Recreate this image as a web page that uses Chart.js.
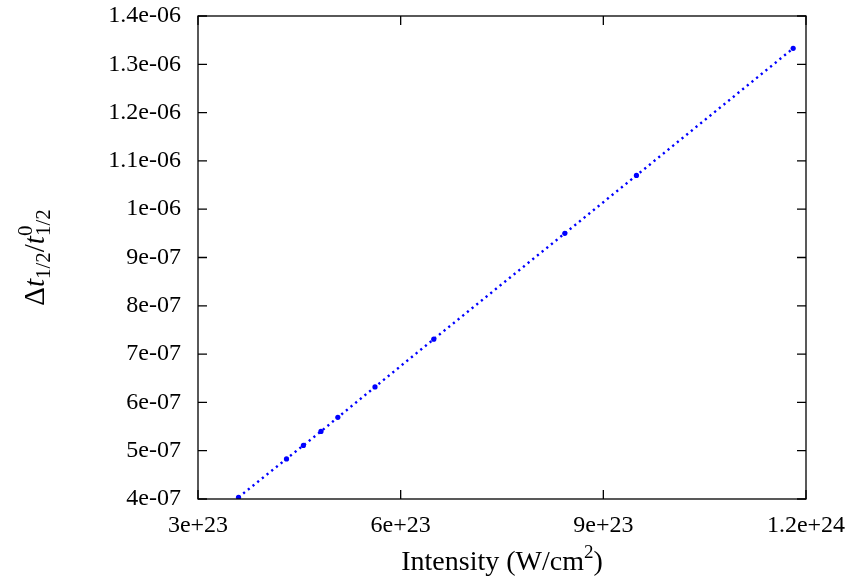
<!DOCTYPE html>
<html>
<head>
<meta charset="utf-8">
<script src="https://cdn.jsdelivr.net/npm/chart.js@4"></script>
<style>
  html, body { margin: 0; padding: 0; background: #fff; }
  #wrap { width: 859px; height: 581px; }
</style>
</head>
<body>
<div id="wrap"><canvas id="chart" width="859" height="581"></canvas></div>
<script>
// intensity values (W/cm^2) and relative half-life change
const intensity = [3.60e23, 4.31e23, 4.56e23, 4.82e23, 5.07e23, 5.62e23, 6.49e23, 8.43e23, 9.49e23, 1.181e24];
const deltaT = [4.035e-7, 4.83e-7, 5.11e-7, 5.40e-7, 5.69e-7, 6.32e-7, 7.31e-7, 9.50e-7, 1.070e-6, 1.333e-6];

const xTickValues = [3e23, 6e23, 9e23, 1.2e24];
const xTickLabels = ['3e+23', '6e+23', '9e+23', '1.2e+24'];
const yTickValues = [4e-7, 5e-7, 6e-7, 7e-7, 8e-7, 9e-7, 1e-6, 1.1e-6, 1.2e-6, 1.3e-6, 1.4e-6];
const yTickLabels = ['4e-07', '5e-07', '6e-07', '7e-07', '8e-07', '9e-07', '1e-06', '1.1e-06', '1.2e-06', '1.3e-06', '1.4e-06'];

const FONT = '"Liberation Serif", "Times New Roman", serif';

// draw text pieces with sub/superscripts, centred on cx, baseline cy
function drawRich(ctx, parts, cx, cy) {
  parts.forEach(p => {
    ctx.font = (p.italic ? 'italic ' : '') + p.size + 'px ' + FONT;
    p.w = ctx.measureText(p.t).width;
  });
  // a part flagged stackWithPrev sits under/over the previous one
  let x = 0;
  const pos = [];
  parts.forEach((p, i) => {
    if (p.stackWithPrev) {
      pos.push(pos[i - 1]);
      x = pos[i - 1] + Math.max(p.w, parts[i - 1].w);
    } else {
      pos.push(x);
      x += p.w + (p.gap || 0);
    }
  });
  const total = x;
  parts.forEach((p, i) => {
    ctx.font = (p.italic ? 'italic ' : '') + p.size + 'px ' + FONT;
    ctx.fillText(p.t, cx - total / 2 + pos[i], cy + (p.dy || 0));
  });
}

const framePlugin = {
  id: 'frame',
  afterDraw(chart) {
    const { ctx, chartArea: a, scales } = chart;
    ctx.save();
    ctx.strokeStyle = '#000';
    ctx.lineWidth = 1.3;
    ctx.strokeRect(a.left, a.top, a.right - a.left, a.bottom - a.top);
    const len = 9;
    ctx.beginPath();
    xTickValues.forEach(v => {
      const px = scales.x.getPixelForValue(v);
      ctx.moveTo(px, a.bottom); ctx.lineTo(px, a.bottom - len);
      ctx.moveTo(px, a.top); ctx.lineTo(px, a.top + len);
    });
    yTickValues.forEach(v => {
      const py = scales.y.getPixelForValue(v);
      ctx.moveTo(a.left, py); ctx.lineTo(a.left + len, py);
      ctx.moveTo(a.right, py); ctx.lineTo(a.right - len, py);
    });
    ctx.stroke();

    // axis titles
    ctx.fillStyle = '#000';
    ctx.textBaseline = 'alphabetic';
    ctx.textAlign = 'left';
    drawRich(ctx, [
      { t: 'Intensity (W/cm', size: 28 },
      { t: '2', size: 19, dy: -12 },
      { t: ')', size: 28 }
    ], (a.left + a.right) / 2, 570);

    ctx.translate(44, (a.top + a.bottom) / 2);
    ctx.rotate(-Math.PI / 2);
    drawRich(ctx, [
      { t: 'Δ', size: 29 },
      { t: 't', size: 29, italic: true },
      { t: '1/2', size: 21, dy: 6 },
      { t: '/', size: 29 },
      { t: 't', size: 29, italic: true },
      { t: '0', size: 21, dy: -12 },
      { t: '1/2', size: 21, dy: 6, stackWithPrev: true }
    ], 0, 0);
    ctx.restore();
  }
};

new Chart(document.getElementById('chart'), {
  type: 'scatter',
  data: {
    datasets: [{
      data: intensity.map((v, i) => ({ x: v, y: deltaT[i] })),
      showLine: true,
      borderColor: '#0000ff',
      backgroundColor: '#0000ff',
      borderWidth: 2.4,
      borderDash: [2.2, 3.8],
      pointRadius: 2.6,
      pointBorderWidth: 0,
      tension: 0
    }]
  },
  options: {
    responsive: false,
    animation: false,
    layout: { padding: { top: 16, right: 53, left: 0, bottom: 0 } },
    plugins: { legend: { display: false }, tooltip: { enabled: false } },
    scales: {
      x: {
        type: 'linear',
        min: 3e23,
        max: 1.2e24,
        afterBuildTicks: s => { s.ticks = xTickValues.map(v => ({ value: v })); },
        afterFit: s => { s.height = 82; s.paddingLeft = 0; s.paddingRight = 0; },
        grid: { display: false, drawTicks: false },
        border: { display: false },
        ticks: {
          color: '#000',
          padding: 12,
          font: { family: FONT, size: 24 },
          maxRotation: 0,
          callback: (v) => xTickLabels[xTickValues.indexOf(v)] ?? ''
        }
      },
      y: {
        type: 'linear',
        min: 4e-7,
        max: 1.4e-6,
        afterBuildTicks: s => { s.ticks = yTickValues.map(v => ({ value: v })); },
        afterFit: s => { s.width = 198; s.paddingTop = 0; s.paddingBottom = 0; },
        grid: { display: false, drawTicks: false },
        border: { display: false },
        ticks: {
          color: '#000',
          padding: 17,
          font: { family: FONT, size: 24 },
          callback: (v) => {
            const i = yTickValues.findIndex(t => Math.abs(t - v) < 1e-12);
            return i >= 0 ? yTickLabels[i] : '';
          }
        }
      }
    }
  },
  plugins: [framePlugin]
});
</script>
</body>
</html>
